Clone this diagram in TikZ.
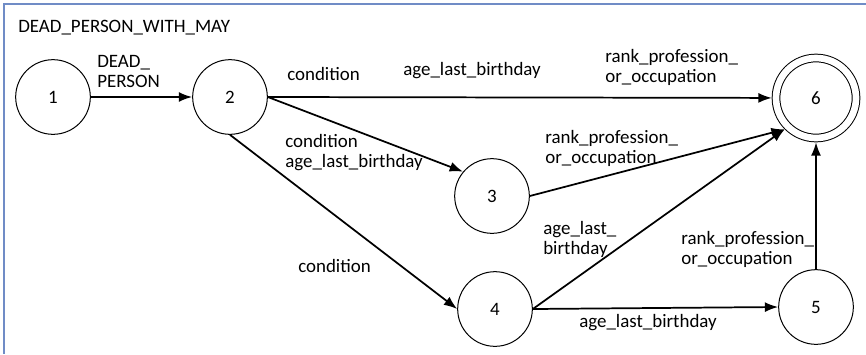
\documentclass[tikz,border=0pt]{standalone}
\usepackage{fontspec}
\setmainfont{Carlito}
\usetikzlibrary{positioning, arrows.meta}
\definecolor{framecol}{RGB}{112,140,198}

\begin{document}
\begin{tikzpicture}[x=0.75pt, y=-0.75pt,
  font=\fontsize{14.2}{14.3}\selectfont,
  stnode/.style={draw, circle, line width=0.75pt, minimum size=56pt, inner sep=0pt},
  endnode/.style={draw, circle, double, line width=0.75pt, double distance=5pt, minimum size=60pt, inner sep=0pt, outer sep=3.2pt},
  trans/.style={-{Latex[length=10pt,width=7.5pt]}, line width=1.3pt},
  lbl/.style={anchor=base west, align=left, inner sep=0pt}]
\useasboundingbox (0,0) rectangle (866,354);

% Frame and title
\draw[framecol, line width=1.5pt] (866,4) -- (4,4) -- (4,354);
\node[lbl] (title) at (18,32) {DEAD\_PERSON\_WITH\_MAY};

% States
\node[stnode] (n1) at (53,97) {1};
\node[stnode] (n2) at (230,97) {2};
\node[stnode] (n3) at (492,196) {3};
\node[stnode] (n4) at (495,309) {4};
\node[stnode] (n5) at (816,307) {5};
\node[endnode] (n6) at (816,98) {6};

% Transitions
\draw[trans] (n1) -- (n2);
\draw[trans] (n2.east) -- (n6);
\draw[trans] (n2.east) -- (n3.140);
\draw[trans] (n2.south) -- (n4.west);
\draw[trans] (n3.east) -- (n6.225);
\draw[trans] (n4.east) -- (n6.225);
\draw[trans] (n4.east) -- (n5.west);
\draw[trans] (n5) -- (n6);

% Labels (base = last line)
\node[lbl] (l12) at (97,87) {DEAD\_\\PERSON};
\node[lbl] (l26a) at (287,80) {condition};
\node[lbl] (l26b) at (403,75) {age\_last\_birthday};
\node[lbl] (l26c) at (605,82) {rank\_profession\_\\or\_occupation};
\node[lbl] (l23) at (285,167) {condition\\age\_last\_birthday};
\node[lbl] (l36) at (545,163) {rank\_profession\_\\or\_occupation};
\node[lbl] (l24) at (298,272) {condition};
\node[lbl] (l46) at (543,254) {age\_last\_\\birthday};
\node[lbl] (l56) at (681,264) {rank\_profession\_\\or\_occupation};
\node[lbl] (l45) at (579,327) {age\_last\_birthday};
\end{tikzpicture}
\end{document}
